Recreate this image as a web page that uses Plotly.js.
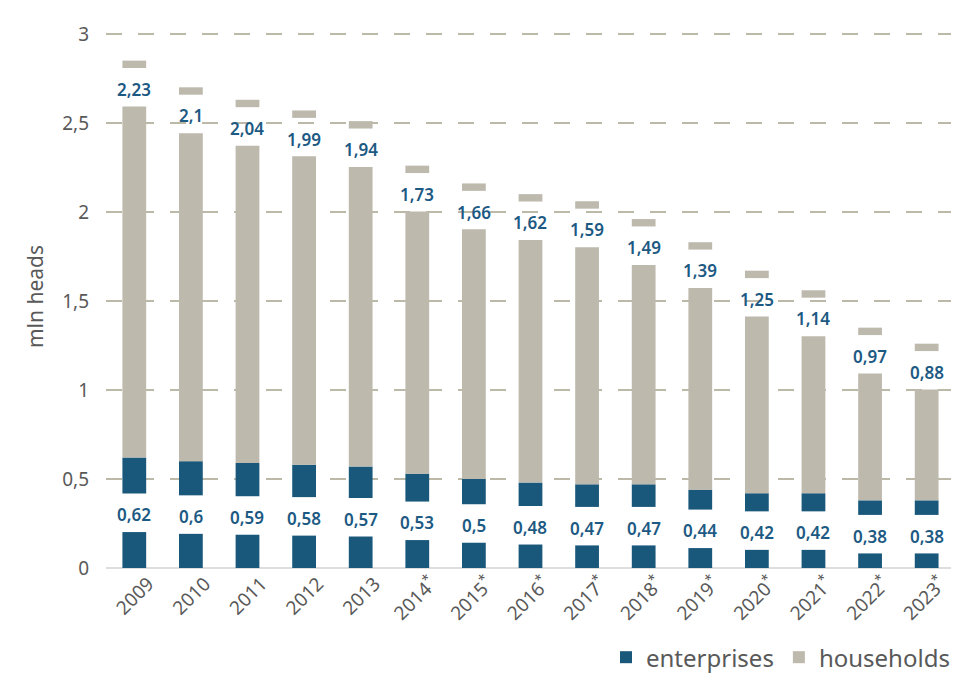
<!DOCTYPE html>
<html>
<head>
<meta charset="utf-8">
<script src="https://cdn.plot.ly/plotly-3.0.1.min.js"></script>
<style>html,body{margin:0;padding:0;background:#fff;}</style>
</head>
<body>
<div id="chart" style="width:955px;height:682px;"></div>
<script>
// ---- data ----
const years = ['2009','2010','2011','2012','2013','2014*','2015*','2016*','2017*','2018*','2019*','2020*','2021*','2022*','2023*'];
const tickLabels = ['2009','2010','2011','2012','2013','2014<sup>*</sup>','2015<sup>*</sup>','2016<sup>*</sup>','2017<sup>*</sup>','2018<sup>*</sup>','2019<sup>*</sup>','2020<sup>*</sup>','2021<sup>*</sup>','2022<sup>*</sup>','2023<sup>*</sup>'];
const enterprises = [0.62,0.6,0.59,0.58,0.57,0.53,0.5,0.48,0.47,0.47,0.44,0.42,0.42,0.38,0.38];
const households  = [2.23,2.1,2.04,1.99,1.94,1.73,1.66,1.62,1.59,1.49,1.39,1.25,1.14,0.97,0.88];

// ---- layout geometry ----
const W = 955, H = 682;
const M = {l: 106, r: 0, t: 25, b: 114};
const yRange = [0, 3.05];
const pxPerUnit = (H - M.t - M.b) / (yRange[1] - yRange[0]);
const gap = 38.5 / pxPerUnit;   // white gap holding the label
const cap = 7.4 / pxPerUnit;    // small piece above the households label

const BLUE = '#1a587b', GREY = '#bdb9ad', LABEL = '#1d5a83', TXT = '#595959';
const FONT = 'Noto Sans, Open Sans, sans-serif';

const x = years.map((_, i) => i);
const totals = enterprises.map((e, i) => e + households[i]);

const barW = 0.42;
const traces = [
  { type: 'bar', name: 'enterprises', legendgroup: 'ent', x: x,
    base: enterprises.map(() => 0),
    y: enterprises.map(e => e / 2 - gap / 2),
    width: barW, marker: {color: BLUE}, hoverinfo: 'skip' },
  { type: 'bar', name: 'enterprises', legendgroup: 'ent', showlegend: false, x: x,
    base: enterprises.map(e => e / 2 + gap / 2),
    y: enterprises.map(e => e / 2 - gap / 2),
    width: barW, marker: {color: BLUE}, hoverinfo: 'skip' },
  { type: 'bar', name: 'households', legendgroup: 'hh', x: x,
    base: enterprises.slice(),
    y: households.map(h => h - cap - gap),
    width: barW, marker: {color: GREY}, hoverinfo: 'skip' },
  { type: 'bar', name: 'households', legendgroup: 'hh', showlegend: false, x: x,
    base: totals.map(t => t - cap),
    y: totals.map(() => cap),
    width: barW, marker: {color: GREY}, hoverinfo: 'skip' }
];

const fmt = v => String(v).replace('.', ',');
const annotations = [];
x.forEach(i => {
  annotations.push({ x: i, y: enterprises[i] / 2, xref: 'x', yref: 'y', text: fmt(enterprises[i]),
    showarrow: false, yanchor: 'middle', yshift: -2,
    font: {family: FONT, size: 17, color: LABEL, weight: 600} });
  annotations.push({ x: i, y: totals[i] - cap - gap / 2, xref: 'x', yref: 'y', text: fmt(households[i]),
    showarrow: false, yanchor: 'middle', yshift: -2,
    font: {family: FONT, size: 17, color: LABEL, weight: 600} });
});

const layout = {
  width: W, height: H,
  margin: M,
  paper_bgcolor: '#fff', plot_bgcolor: '#fff',
  barmode: 'overlay',
  separators: ', ',
  font: {family: FONT, color: TXT},
  showlegend: true,
  legend: { orientation: 'h', x: 1.005, xanchor: 'right', y: -0.165, yanchor: 'middle',
    font: {family: FONT, size: 24, color: TXT}, traceorder: 'normal' },
  xaxis: {
    range: [-0.5, 14.43], tickmode: 'array', tickvals: x, ticktext: tickLabels,
    tickangle: -45, ticks: '', showgrid: false, zeroline: false, showline: false,
    tickfont: {family: FONT, size: 19, color: TXT}, ticklabelshift: 14, fixedrange: true
  },
  yaxis: {
    range: yRange, tickvals: [0, 0.5, 1, 1.5, 2, 2.5, 3], ticks: '',
    showgrid: true, gridcolor: '#bdb9a8', gridwidth: 2.5, griddash: '16px,16px',
    zeroline: true, zerolinecolor: '#dedede', zerolinewidth: 2,
    tickfont: {family: FONT, size: 19, color: TXT}, ticklabelstandoff: 16,
    title: {text: 'mln heads', standoff: 12, font: {family: FONT, size: 21, color: TXT}},
    fixedrange: true
  },
  annotations: annotations
};

Plotly.newPlot('chart', traces, layout, {displayModeBar: false, staticPlot: true});
</script>
</body>
</html>
